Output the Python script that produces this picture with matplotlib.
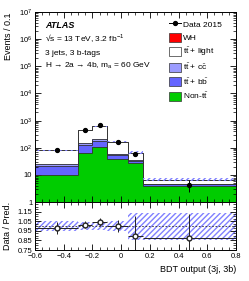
import matplotlib
matplotlib.use('Agg')
from matplotlib import pyplot as plt
from matplotlib.ticker import MultipleLocator, LogLocator, NullFormatter, FixedLocator
from matplotlib.patches import Patch
from matplotlib.lines import Line2D
import numpy as np

# bins of the BDT output
edges = [-0.6, -0.3, -0.2, -0.1, 0.05, 0.15, 0.8]

# stacked predictions, events / 0.1
non_tt = [9.3, 62, 104, 38, 27, 3.1]
tt_bb = [12, 68, 76, 16, 4, 0.5]
tt_cc = [4, 15, 30, 6, 4, 0.3]
tt_light = [55, 305, 420, 106, 29, 1.6]
wh = [0.3, 1.0, 1.5, 0.8, 2.0, 0.35]

data = [80, 450, 670, 166, 59, 4.35]
data_err = [9, 21, 26, 13, 7.7, 2.1]

ratio = [0.98, 1.015, 1.04, 1.0, 0.90, 0.88]
ratio_err = [0.065, 0.035, 0.04, 0.06, 0.2, 0.25]
band = [0.05, 0.04, 0.04, 0.05, 0.14, 0.14]

e = np.array(edges)
centers = 0.5 * (e[1:] + e[:-1])
half = 0.5 * (e[1:] - e[:-1])

plt.rcParams['font.family'] = ['Liberation Sans', 'DejaVu Sans']
plt.rcParams['mathtext.fontset'] = 'custom'
plt.rcParams['mathtext.rm'] = 'Liberation Sans'
plt.rcParams['mathtext.it'] = 'Liberation Sans:italic'
plt.rcParams['mathtext.bf'] = 'Liberation Sans:bold'
plt.rcParams['font.size'] = 5.5

fig = plt.figure(figsize=(2.49, 2.81), dpi=100)
ax = fig.add_axes([0.1406, 0.281, 0.807, 0.676])
rx = fig.add_axes([0.1406, 0.110, 0.807, 0.171], sharex=ax)

tt = 't$\\mathrm{\\bar{t}}$'
comps = [(non_tt, '#00cc00', 'Non-' + tt),
         (tt_bb, '#6464ff', tt + ' + b$\\mathrm{\\bar{b}}$'),
         (tt_cc, '#9c9cff', tt + ' + c$\\mathrm{\\bar{c}}$'),
         (tt_light, 'white', tt + ' + light'),
         (wh, '#ff0000', 'WH')]

base = np.full(len(centers), 0.9)
for vals, col, lab in comps:
    top = base + np.array(vals)
    ax.stairs(top, edges, baseline=base, fill=True, color=col, zorder=1)
    ax.stairs(top, edges, color='#333333', lw=0.6, zorder=2)
    base = top
total = base

unc = np.array(band) * total
ax.stairs(total + unc, edges, baseline=total - unc, fill=True, facecolor='none',
          edgecolor='#8080ff', hatch='//////', lw=0, zorder=3)
ax.errorbar(centers, data, yerr=data_err, fmt='o', color='black', ms=2.8,
            elinewidth=0.7, capsize=0, zorder=5)

ax.set_yscale('log')
ax.set_ylim(1, 1e7)
ax.set_xlim(-0.6, 0.8)
ax.yaxis.set_minor_locator(LogLocator(base=10, subs=np.arange(2, 10), numticks=10))
ax.yaxis.set_minor_formatter(NullFormatter())
ax.set_yticks([1, 10, 1e2, 1e3, 1e4, 1e5, 1e6, 1e7])
ax.set_yticklabels(['1', '10', '10$^2$', '10$^3$', '10$^4$', '10$^5$', '10$^6$', '10$^7$'])
ax.set_ylabel('Events / 0.1', fontsize=6.5, loc='top')
plt.setp(ax.get_xticklabels(), visible=False)

ax.text(0.05, 0.915, 'ATLAS', transform=ax.transAxes, fontsize=6.5,
        fontweight='bold', style='italic')
ax.text(0.05, 0.845, '\u221as = 13 TeV, 3.2 fb$^{-1}$', transform=ax.transAxes, fontsize=6)
ax.text(0.05, 0.775, '3 jets, 3 b-tags', transform=ax.transAxes, fontsize=6)
ax.text(0.05, 0.705, 'H \u2192 2a \u2192 4b, m$_{\\rm a}$ = 60 GeV',
        transform=ax.transAxes, fontsize=6)

handles = [Line2D([], [], marker='o', color='black', ms=2.8, lw=0.7, label='Data 2015')]
for vals, col, lab in comps[::-1]:
    handles.append(Patch(facecolor=col, edgecolor='#333333', lw=0.5, label=lab))
ax.legend(handles=handles, loc='upper left', frameon=False, fontsize=6,
          handlelength=1.4, handleheight=1.3, labelspacing=0.45,
          handletextpad=0.3, borderaxespad=0.5, bbox_to_anchor=(0.63, 1.0))

# ratio panel
lo = 1 - np.array(band)
hi = 1 + np.array(band)
rx.stairs(hi, edges, baseline=lo, fill=True, facecolor='none',
          edgecolor='#8080ff', hatch='//////', lw=0)
rx.axhline(1.0, color='#333333', lw=0.6, ls=(0, (2, 2)))
rx.errorbar(centers, ratio, yerr=ratio_err, xerr=half, fmt='o', mfc='white',
            mec='#222222', color='#222222', ms=3.5, elinewidth=0.7, capsize=0)
rx.set_ylim(0.75, 1.25)
rx.yaxis.set_major_locator(FixedLocator([0.75, 0.85, 0.95, 1.05, 1.15]))
rx.set_yticklabels(['0.75', '0.85', '0.95', '1.05', '1.15'])
rx.yaxis.set_minor_locator(MultipleLocator(0.025))
rx.xaxis.set_minor_locator(MultipleLocator(0.05))
rx.set_xticks([-0.6, -0.4, -0.2, 0, 0.2, 0.4, 0.6, 0.8])
rx.set_xticklabels(['\u22120.6', '\u22120.4', '\u22120.2', '0', '0.2', '0.4', '0.6', '0.8'])
rx.set_ylabel('Data / Pred.', fontsize=6.5)
rx.set_xlabel('BDT output (3j, 3b)', fontsize=6.5, loc='right')

for a in (ax, rx):
    a.tick_params(which='both', direction='in', top=True, right=True, labelsize=5.5, pad=2)
    a.tick_params(which='major', length=4, width=0.6)
    a.tick_params(which='minor', length=2, width=0.5)
    for s in a.spines.values():
        s.set_linewidth(0.7)

fig.savefig('out.png', dpi=100)
